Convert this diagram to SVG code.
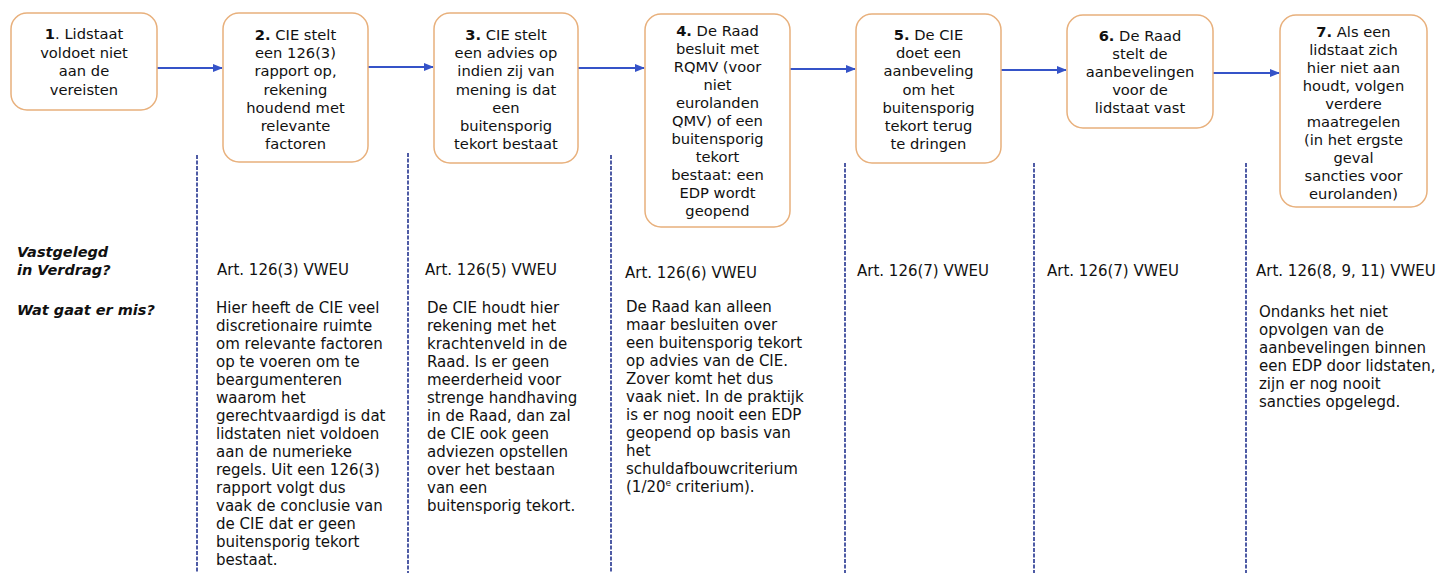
<svg xmlns="http://www.w3.org/2000/svg" width="1446" height="573" viewBox="0 0 1446 573">
<style>
.box{fill:#ffffff;stroke:#e8b07c;stroke-width:1.5}
.bt{font-family:"DejaVu Sans","Verdana",sans-serif;font-size:14.7px;fill:#111;text-anchor:middle}
.b{font-weight:bold}
.tx{font-family:"DejaVu Sans","Verdana",sans-serif;font-size:15px;fill:#111}
.lab{font-family:"DejaVu Sans","Verdana",sans-serif;font-size:14.5px;font-weight:bold;font-style:italic;fill:#111}
.arr{stroke:#3553c8;stroke-width:2;fill:none;marker-end:url(#ah)}
.div{stroke:#23338f;stroke-width:1.6;stroke-dasharray:4,1.5;fill:none}
</style>
<defs>
<marker id="ah" markerWidth="10" markerHeight="8" refX="9" refY="4" orient="auto" markerUnits="userSpaceOnUse">
<path d="M0,0 L10,4 L0,8 Z" fill="#3553c8"/>
</marker>
</defs>
<rect width="1446" height="573" fill="#ffffff"/>

<g id="connectors">
<line class="arr" x1="157" y1="68" x2="222" y2="68"/>
<line class="arr" x1="368" y1="67" x2="433" y2="67"/>
<line class="arr" x1="578" y1="68" x2="644" y2="68"/>
<line class="arr" x1="790" y1="69" x2="855" y2="69"/>
<line class="arr" x1="1001" y1="70" x2="1066" y2="70"/>
<line class="arr" x1="1213" y1="73" x2="1279" y2="73"/>
</g>

<g id="dividers">
<line class="div" x1="197" y1="155" x2="197" y2="573"/>
<line class="div" x1="408" y1="153" x2="408" y2="573"/>
<line class="div" x1="611" y1="155" x2="611" y2="573"/>
<line class="div" x1="845" y1="163" x2="845" y2="573"/>
<line class="div" x1="1034" y1="163" x2="1034" y2="573"/>
<line class="div" x1="1246" y1="163" x2="1246" y2="573"/>
</g>

<g id="node1">
<rect class="box" x="11" y="13" width="146" height="97" rx="16"/>
<text class="bt" x="84" y="39"><tspan class="b">1</tspan>. Lidstaat</text>
<text class="bt" x="84" y="57.7">voldoet niet</text>
<text class="bt" x="84" y="76.4">aan de</text>
<text class="bt" x="84" y="95.1">vereisten</text>
</g>

<g id="node2">
<rect class="box" x="223" y="13" width="145" height="149" rx="16"/>
<text class="bt" x="295.5" y="40"><tspan class="b">2.</tspan> CIE stelt</text>
<text class="bt" x="295.5" y="58.2">een 126(3)</text>
<text class="bt" x="295.5" y="76.4">rapport op,</text>
<text class="bt" x="295.5" y="94.6">rekening</text>
<text class="bt" x="295.5" y="112.8">houdend met</text>
<text class="bt" x="295.5" y="131">relevante</text>
<text class="bt" x="295.5" y="149.2">factoren</text>
</g>

<g id="node3">
<rect class="box" x="434" y="13" width="144" height="150" rx="16"/>
<text class="bt" x="506" y="40"><tspan class="b">3.</tspan> CIE stelt</text>
<text class="bt" x="506" y="58.2">een advies op</text>
<text class="bt" x="506" y="76.4">indien zij van</text>
<text class="bt" x="506" y="94.6">mening is dat</text>
<text class="bt" x="506" y="112.8">een</text>
<text class="bt" x="506" y="131">buitensporig</text>
<text class="bt" x="506" y="149.2">tekort bestaat</text>
</g>

<g id="node4">
<rect class="box" x="645" y="14" width="145" height="213" rx="16"/>
<text class="bt" x="717.5" y="36"><tspan class="b">4.</tspan> De Raad</text>
<text class="bt" x="717.5" y="54">besluit met</text>
<text class="bt" x="717.5" y="72">RQMV (voor</text>
<text class="bt" x="717.5" y="90">niet</text>
<text class="bt" x="717.5" y="108">eurolanden</text>
<text class="bt" x="717.5" y="126">QMV) of een</text>
<text class="bt" x="717.5" y="144">buitensporig</text>
<text class="bt" x="717.5" y="162">tekort</text>
<text class="bt" x="717.5" y="180">bestaat: een</text>
<text class="bt" x="717.5" y="198">EDP wordt</text>
<text class="bt" x="717.5" y="216">geopend</text>
</g>

<g id="node5">
<rect class="box" x="856" y="14" width="145" height="149" rx="16"/>
<text class="bt" x="928.5" y="40"><tspan class="b">5.</tspan> De CIE</text>
<text class="bt" x="928.5" y="58.2">doet een</text>
<text class="bt" x="928.5" y="76.4">aanbeveling</text>
<text class="bt" x="928.5" y="94.6">om het</text>
<text class="bt" x="928.5" y="112.8">buitensporig</text>
<text class="bt" x="928.5" y="131">tekort terug</text>
<text class="bt" x="928.5" y="149.2">te dringen</text>
</g>

<g id="node6">
<rect class="box" x="1067" y="15" width="146" height="113" rx="16"/>
<text class="bt" x="1140" y="40.5"><tspan class="b">6.</tspan> De Raad</text>
<text class="bt" x="1140" y="58.7">stelt de</text>
<text class="bt" x="1140" y="76.9">aanbevelingen</text>
<text class="bt" x="1140" y="95.1">voor de</text>
<text class="bt" x="1140" y="113.3">lidstaat vast</text>
</g>

<g id="node7">
<rect class="box" x="1280" y="15" width="147" height="192" rx="16"/>
<text class="bt" x="1353.5" y="36.5"><tspan class="b">7.</tspan> Als een</text>
<text class="bt" x="1353.5" y="54.5">lidstaat zich</text>
<text class="bt" x="1353.5" y="72.5">hier niet aan</text>
<text class="bt" x="1353.5" y="90.5">houdt, volgen</text>
<text class="bt" x="1353.5" y="108.5">verdere</text>
<text class="bt" x="1353.5" y="126.5">maatregelen</text>
<text class="bt" x="1353.5" y="144.5">(in het ergste</text>
<text class="bt" x="1353.5" y="162.5">geval</text>
<text class="bt" x="1353.5" y="180.5">sancties voor</text>
<text class="bt" x="1353.5" y="198.5">eurolanden)</text>
</g>

<g id="row-labels">
<text class="lab" x="17" y="257">Vastgelegd</text>
<text class="lab" x="17" y="275">in Verdrag?</text>
<text class="lab" x="17" y="315">Wat gaat er mis?</text>
</g>

<g id="col2">
<text class="tx" x="217" y="275">Art. 126(3) VWEU</text>
<text class="tx" x="216">
<tspan x="216" y="313">Hier heeft de CIE veel</tspan>
<tspan x="216" y="331">discretionaire ruimte</tspan>
<tspan x="216" y="349">om relevante factoren</tspan>
<tspan x="216" y="367">op te voeren om te</tspan>
<tspan x="216" y="385">beargumenteren</tspan>
<tspan x="216" y="403">waarom het</tspan>
<tspan x="216" y="421">gerechtvaardigd is dat</tspan>
<tspan x="216" y="439">lidstaten niet voldoen</tspan>
<tspan x="216" y="457">aan de numerieke</tspan>
<tspan x="216" y="475">regels. Uit een 126(3)</tspan>
<tspan x="216" y="493">rapport volgt dus</tspan>
<tspan x="216" y="511">vaak de conclusie van</tspan>
<tspan x="216" y="529">de CIE dat er geen</tspan>
<tspan x="216" y="547">buitensporig tekort</tspan>
<tspan x="216" y="565">bestaat.</tspan>
</text>
</g>

<g id="col3">
<text class="tx" x="425" y="275">Art. 126(5) VWEU</text>
<text class="tx" x="427">
<tspan x="427" y="313">De CIE houdt hier</tspan>
<tspan x="427" y="331">rekening met het</tspan>
<tspan x="427" y="349">krachtenveld in de</tspan>
<tspan x="427" y="367">Raad. Is er geen</tspan>
<tspan x="427" y="385">meerderheid voor</tspan>
<tspan x="427" y="403">strenge handhaving</tspan>
<tspan x="427" y="421">in de Raad, dan zal</tspan>
<tspan x="427" y="439">de CIE ook geen</tspan>
<tspan x="427" y="457">adviezen opstellen</tspan>
<tspan x="427" y="475">over het bestaan</tspan>
<tspan x="427" y="493">van een</tspan>
<tspan x="427" y="511">buitensporig tekort.</tspan>
</text>
</g>

<g id="col4">
<text class="tx" x="625" y="278">Art. 126(6) VWEU</text>
<text class="tx" x="626">
<tspan x="626" y="312">De Raad kan alleen</tspan>
<tspan x="626" y="330">maar besluiten over</tspan>
<tspan x="626" y="348">een buitensporig tekort</tspan>
<tspan x="626" y="366">op advies van de CIE.</tspan>
<tspan x="626" y="384">Zover komt het dus</tspan>
<tspan x="626" y="402">vaak niet. In de praktijk</tspan>
<tspan x="626" y="420">is er nog nooit een EDP</tspan>
<tspan x="626" y="438">geopend op basis van</tspan>
<tspan x="626" y="456">het</tspan>
<tspan x="626" y="474">schuldafbouwcriterium</tspan>
<tspan x="626" y="492">(1/20<tspan font-size="9" dy="-6">e</tspan><tspan dy="6"> criterium).</tspan></tspan>
</text>
</g>

<g id="col5">
<text class="tx" x="857" y="276">Art. 126(7) VWEU</text>
</g>

<g id="col6">
<text class="tx" x="1047" y="276">Art. 126(7) VWEU</text>
</g>

<g id="col7">
<text class="tx" x="1256" y="276">Art. 126(8, 9, 11) VWEU</text>
<text class="tx" x="1259">
<tspan x="1259" y="317">Ondanks het niet</tspan>
<tspan x="1259" y="335">opvolgen van de</tspan>
<tspan x="1259" y="353">aanbevelingen binnen</tspan>
<tspan x="1259" y="371">een EDP door lidstaten,</tspan>
<tspan x="1259" y="389">zijn er nog nooit</tspan>
<tspan x="1259" y="407">sancties opgelegd.</tspan>
</text>
</g>
</svg>
